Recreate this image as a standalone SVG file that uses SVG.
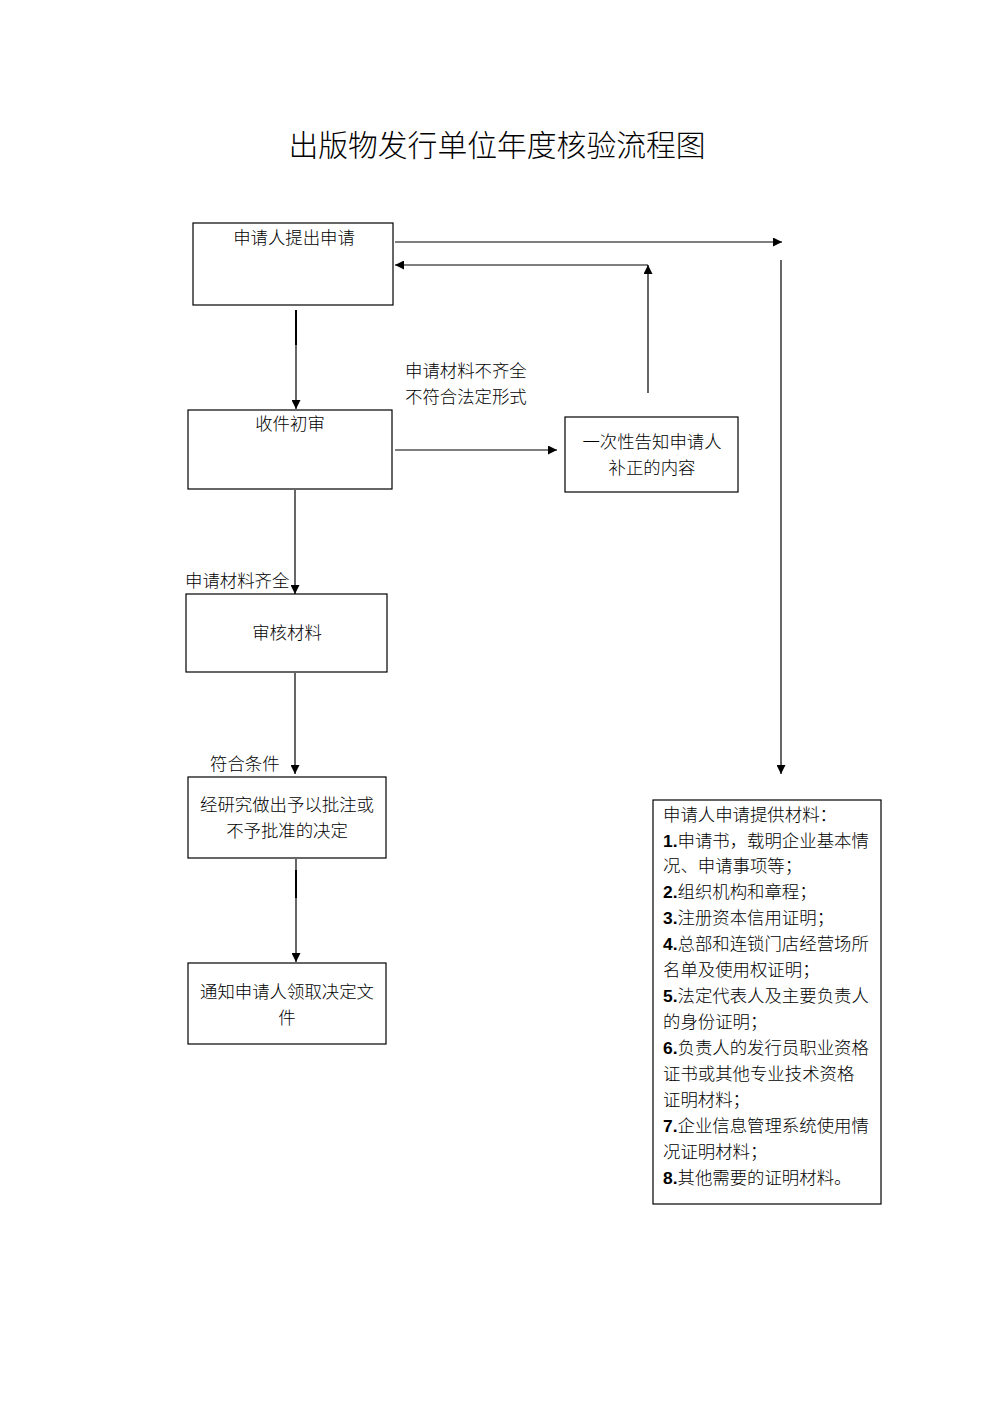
<svg xmlns="http://www.w3.org/2000/svg" width="992" height="1403" viewBox="0 0 992 1403">
<style>
.box{fill:#fff;stroke:#000;stroke-width:1.2}
.ln{stroke:#000;stroke-width:1.2;fill:none}
text{font-family:"Noto Sans CJK SC","Noto Sans",sans-serif;fill:#000;font-weight:300}
.t{font-size:17.4px}
.c{text-anchor:middle}
.b{font-weight:bold;font-family:"Liberation Sans","Noto Sans",sans-serif}
</style>
<defs>
<marker id="ah" viewBox="0 0 10 10" refX="10" refY="5" markerWidth="10" markerHeight="9" markerUnits="userSpaceOnUse" orient="auto">
<path d="M0,0 L10,5 L0,10 z" fill="#000"/>
</marker>
</defs>
<rect width="992" height="1403" fill="#fff"/>
<text x="497" y="156" class="c" style="font-size:29.8px">出版物发行单位年度核验流程图</text>

<g id="connectors">
<line class="ln" x1="395" y1="242" x2="782" y2="242" marker-end="url(#ah)"/>
<line class="ln" x1="781" y1="260" x2="781" y2="774" marker-end="url(#ah)"/>
<line class="ln" x1="648" y1="393" x2="648" y2="265" marker-end="url(#ah)"/>
<line class="ln" x1="648" y1="265" x2="395" y2="265" marker-end="url(#ah)"/>
<line class="ln" x1="296" y1="310" x2="296" y2="409" marker-end="url(#ah)"/>
<line class="ln" x1="296" y1="310" x2="296" y2="345" style="stroke-width:2"/>
<line class="ln" x1="395" y1="450" x2="557" y2="450" marker-end="url(#ah)"/>
<line class="ln" x1="295" y1="490" x2="295" y2="594" marker-end="url(#ah)"/>
<line class="ln" x1="295" y1="673" x2="295" y2="774" marker-end="url(#ah)"/>
<line class="ln" x1="296" y1="859" x2="296" y2="962" marker-end="url(#ah)"/>
<line class="ln" x1="296" y1="870" x2="296" y2="898" style="stroke-width:2"/>
<text x="405" y="377" class="t">申请材料不齐全</text>
<text x="405" y="403" class="t">不符合法定形式</text>
<text x="185" y="587" class="t">申请材料齐全</text>
<text x="210" y="770" class="t">符合条件</text>
</g>

<g id="n1">
<rect class="box" x="193" y="223" width="200" height="82"/>
<text x="294" y="244" class="t c">申请人提出申请</text>
</g>
<g id="n2">
<rect class="box" x="188" y="410" width="204" height="79"/>
<text x="290" y="430" class="t c">收件初审</text>
</g>
<g id="n3">
<rect class="box" x="565" y="417" width="173" height="75"/>
<text x="652" y="448" class="t c">一次性告知申请人</text>
<text x="652" y="474" class="t c">补正的内容</text>
</g>
<g id="n4">
<rect class="box" x="186" y="594" width="201" height="78"/>
<text x="287" y="639" class="t c">审核材料</text>
</g>
<g id="n5">
<rect class="box" x="188" y="777" width="198" height="81"/>
<text x="287" y="811" class="t c">经研究做出予以批注或</text>
<text x="287" y="837" class="t c">不予批准的决定</text>
</g>
<g id="n6">
<rect class="box" x="188" y="963" width="198" height="81"/>
<text x="287" y="998" class="t c">通知申请人领取决定文</text>
<text x="287" y="1024" class="t c">件</text>
</g>
<g id="n7">
<rect class="box" x="653" y="800" width="228" height="404"/>
<g class="t">
<text x="663" y="821">申请人申请提供材料：</text>
<text x="663" y="847"><tspan class="b">1.</tspan>申请书，载明企业基本情</text>
<text x="663" y="872">况、申请事项等；</text>
<text x="663" y="898"><tspan class="b">2.</tspan>组织机构和章程；</text>
<text x="663" y="924"><tspan class="b">3.</tspan>注册资本信用证明；</text>
<text x="663" y="950"><tspan class="b">4.</tspan>总部和连锁门店经营场所</text>
<text x="663" y="976">名单及使用权证明；</text>
<text x="663" y="1002"><tspan class="b">5.</tspan>法定代表人及主要负责人</text>
<text x="663" y="1028">的身份证明；</text>
<text x="663" y="1054"><tspan class="b">6.</tspan>负责人的发行员职业资格</text>
<text x="663" y="1080">证书或其他专业技术资格</text>
<text x="663" y="1106">证明材料；</text>
<text x="663" y="1132"><tspan class="b">7.</tspan>企业信息管理系统使用情</text>
<text x="663" y="1158">况证明材料；</text>
<text x="663" y="1184"><tspan class="b">8.</tspan>其他需要的证明材料。</text>
</g>
</g>
</svg>
